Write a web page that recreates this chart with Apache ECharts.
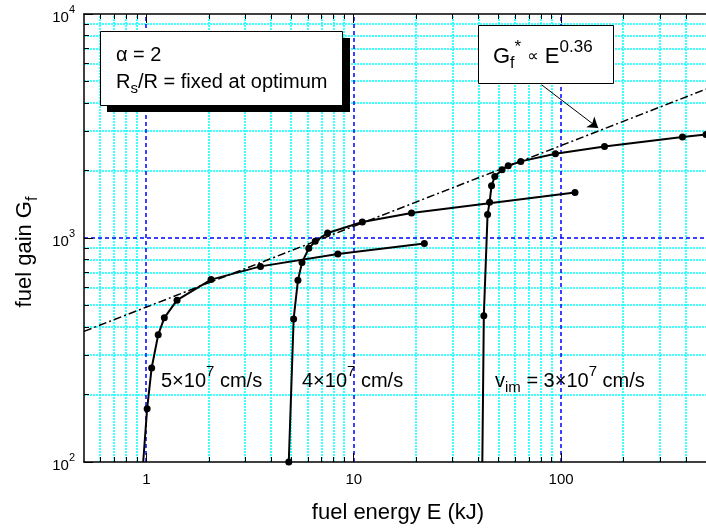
<!DOCTYPE html>
<html>
<head>
<meta charset="utf-8">
<script src="https://cdn.jsdelivr.net/npm/echarts@6/dist/echarts.min.js"></script>
<style>
  html, body { margin: 0; padding: 0; background: #ffffff; }
  #chart { width: 706px; height: 529px; }
</style>
</head>
<body>
<div id="chart"></div>
<script>
// Fuel gain versus fuel energy for three implosion velocities (log-log)
const energy5 = [0.965, 1.008, 1.06, 1.14, 1.22, 1.405, 2.05, 3.55, 8.38, 21.9];
const gain5   = [100, 173, 263, 370, 440, 528, 652, 747, 849, 946];

const energy4 = [4.86, 5.13, 5.38, 5.63, 6.07, 6.52, 7.48, 11.0, 19.0, 116.7];
const gain4   = [100, 435, 647, 778, 899, 966, 1052, 1179, 1294, 1596];

const energy3 = [41.7, 42.4, 44.2, 45.2, 46.2, 47.9, 51.9, 55.6, 63.9, 93.9, 162, 385, 500];
const gain3   = [100, 450, 1273, 1443, 1712, 1881, 2018, 2103, 2198, 2377, 2564, 2826, 2900];

// points where a curve leaves the frame: line only, no dot
const unmarked5 = [0];
const unmarked3 = [0];

// optimum-gain scaling G* ~ E^0.36 (end points of the straight line)
const scalingEnergy = [0.5, 500];
const scalingGain   = [383, 4620];

// pointer from the scaling-law box to the line
const arrowFrom = [80.5, 4831];
const arrowTo   = [151, 3099];

// axis range, ticks and labels
const xRange = [0.5, 500];
const yRange = [100, 10000];
const xMajorTicks = [1, 10, 100];
const xMinorTicks = [0.6, 0.7, 0.8, 0.9, 2, 3, 4, 5, 6, 7, 8, 9,
                     20, 30, 40, 50, 60, 70, 80, 90, 200, 300, 400];
const xTickLabels = ['1', '10', '100'];
const yMajorTicks = [100, 1000, 10000];
const yMinorTicks = [200, 300, 400, 500, 600, 700, 800, 900,
                     2000, 3000, 4000, 5000, 6000, 7000, 8000, 9000];
const yTickExponents = ['2', '3', '4'];
// major grid lines inside the frame
const xMajorGrid = [1, 10, 100];
const yMajorGrid = [1000];

const FONT = '"Liberation Sans", Arial, "DejaVu Sans", sans-serif';

function pairs(xs, ys, hidden) {
  return xs.map((x, i) => {
    const item = { value: [x, ys[i]] };
    if (hidden && hidden.indexOf(i) >= 0) item.symbol = 'none';
    return item;
  });
}

const frameLine = { show: true, lineStyle: { color: '#000000', width: 1.5 } };
const minorGridStyle = { stroke: '#00ffff', lineWidth: 1.5, lineDash: [2, 1] };
const majorGridStyle = { stroke: '#0000ff', lineWidth: 1.5, lineDash: [4, 3] };

function logAxis(range, extra) {
  return Object.assign({
    type: 'log', logBase: 10, z: 3,
    min: range[0], max: range[1],
    axisLine: { show: false },
    axisTick: { show: false },
    axisLabel: { show: false },
    splitLine: { show: false },
    minorTick: { show: false },
    minorSplitLine: { show: false }
  }, extra);
}

function ticks(values, len) {
  return { show: true, inside: true, length: len, customValues: values,
           lineStyle: { color: '#000000', width: 1 } };
}

// grid lines: one custom series per direction, positions from the axes
function gridSeries(values, vertical, style, z) {
  return {
    type: 'custom', xAxisIndex: 0, yAxisIndex: 0, silent: true, z: z,
    animation: false, clip: false,
    data: values.map(v => vertical ? [v, yRange[0]] : [xRange[0], v]),
    renderItem: (params, api) => {
      const v = vertical ? api.value(0) : api.value(1);
      const a = vertical ? api.coord([v, yRange[0]]) : api.coord([xRange[0], v]);
      const b = vertical ? api.coord([v, yRange[1]]) : api.coord([xRange[1], v]);
      const shape = vertical
        ? { x1: Math.round(a[0]), y1: Math.round(a[1]),
            x2: Math.round(a[0]), y2: Math.round(b[1]) }
        : { x1: Math.round(a[0]), y1: Math.round(a[1]),
            x2: Math.round(b[0]), y2: Math.round(a[1]) };
      return { type: 'line', shape: shape, style: style, silent: true };
    }
  };
}

const curveStyle = {
  type: 'line',
  xAxisIndex: 0, yAxisIndex: 0,
  symbol: 'circle', symbolSize: 7,
  lineStyle: { color: '#000000', width: 2 },
  itemStyle: { color: '#000000' },
  z: 5,
  animation: false
};

const richBase = {
  n:   { fontSize: 20, fontFamily: FONT, color: '#000' },
  sup: { fontSize: 15, fontFamily: FONT, color: '#000', padding: [0, 0, 18, 0] },
  sub: { fontSize: 15, fontFamily: FONT, color: '#000', padding: [14, 0, 0, 0] }
};
const richLaw = {
  n:   { fontSize: 22, fontFamily: FONT, color: '#000' },
  sup: { fontSize: 17, fontFamily: FONT, color: '#000', padding: [0, 0, 20, 0] },
  sub: { fontSize: 16, fontFamily: FONT, color: '#000', padding: [14, 0, 0, 0] },
  sym: { fontSize: 16, fontFamily: FONT, color: '#000' }
};
const richTitle = {
  n:   { fontSize: 22, fontFamily: FONT, color: '#000' },
  sub: { fontSize: 16, fontFamily: FONT, color: '#000', padding: [15, 0, 0, 0] }
};

function richText(x, y, text, rich, extra) {
  return Object.assign({
    type: 'text', x: x, y: y, z: 102,
    style: {
      text: text, rich: rich || richBase,
      fontSize: 20, fontFamily: FONT, fill: '#000',
      align: 'left', verticalAlign: 'middle'
    }
  }, extra || {});
}

const chart = echarts.init(document.getElementById('chart'), null, { renderer: 'canvas' });

chart.setOption({
  animation: false,
  backgroundColor: '#ffffff',
  textStyle: { fontFamily: FONT },
  grid: { left: 84, right: -7, top: 14, bottom: 67, containLabel: false },
  xAxis: [
    logAxis(xRange, { position: 'bottom', axisLine: frameLine,
      axisTick: ticks(xMinorTicks, 5) }),
    logAxis(xRange, { position: 'bottom',
      axisTick: ticks(xMajorTicks, 9),
      axisLabel: { show: true, customValues: xMajorTicks, margin: 10,
        fontSize: 15, color: '#000', fontFamily: FONT,
        formatter: v => xTickLabels[xMajorTicks.indexOf(+v)] } }),
    logAxis(xRange, { position: 'top', axisLine: frameLine,
      axisTick: ticks(xMinorTicks, 5) }),
    logAxis(xRange, { position: 'top', axisTick: ticks(xMajorTicks, 9) })
  ],
  yAxis: [
    logAxis(yRange, { position: 'left', axisLine: frameLine,
      axisTick: ticks(yMinorTicks, 5) }),
    logAxis(yRange, { position: 'left',
      axisTick: ticks(yMajorTicks, 9),
      axisLabel: { show: true, customValues: yMajorTicks, margin: 9,
        color: '#000',
        formatter: v => '{b|10}{s|' + yTickExponents[yMajorTicks.indexOf(+v)] + '}',
        rich: {
          b: { fontSize: 15, fontFamily: FONT, color: '#000', padding: [7, 0, 0, 0] },
          s: { fontSize: 11, fontFamily: FONT, color: '#000', padding: [0, 0, 9, 0] }
        } } })
  ],
  series: [
    gridSeries(xMinorTicks, true, minorGridStyle, 1),
    gridSeries(yMinorTicks, false, minorGridStyle, 1),
    gridSeries(xMajorGrid, true, majorGridStyle, 2),
    gridSeries(yMajorGrid, false, majorGridStyle, 2),
    {
      type: 'line', name: 'G* ~ E^0.36',
      xAxisIndex: 0, yAxisIndex: 0,
      data: pairs(scalingEnergy, scalingGain),
      showSymbol: false, symbol: 'none',
      lineStyle: { color: '#000000', width: 1.5, type: [8, 3, 2, 3] },
      z: 4, animation: false,
      markLine: {
        silent: true, animation: false,
        symbol: ['none', 'arrow'], symbolSize: 10,
        lineStyle: { color: '#000000', width: 1, type: 'solid' },
        label: { show: false },
        data: [[{ coord: arrowFrom }, { coord: arrowTo }]]
      }
    },
    Object.assign({ name: '5×10^7 cm/s', data: pairs(energy5, gain5, unmarked5) }, curveStyle),
    Object.assign({ name: '4×10^7 cm/s', data: pairs(energy4, gain4) }, curveStyle),
    Object.assign({ name: '3×10^7 cm/s', data: pairs(energy3, gain3, unmarked3) }, curveStyle)
  ],
  graphic: [
    // parameter box with drop shadow
    { type: 'rect', z: 100, shape: { x: 107, y: 38, width: 243, height: 74 },
      style: { fill: '#000000' } },
    { type: 'rect', z: 101, shape: { x: 100.5, y: 31.5, width: 242, height: 74 },
      style: { fill: '#ffffff', stroke: '#000000', lineWidth: 1 } },
    richText(116, 55, '{n|α = 2}'),
    richText(116, 82, '{n|R}{sub|s}{n|/R = fixed at optimum}'),

    // scaling-law box
    { type: 'rect', z: 101, shape: { x: 478.5, y: 25.5, width: 135, height: 58 },
      style: { fill: '#ffffff', stroke: '#000000', lineWidth: 1 } },
    richText(493, 57, '{n|G}{sub|f}{sup|*}{n| }{sym|∝}{n| E}{sup|0.36}', richLaw),

    // curve labels
    richText(161, 381, '{n|5×10}{sup|7}{n| cm/s}'),
    richText(302, 381, '{n|4×10}{sup|7}{n| cm/s}'),
    richText(495, 381, '{n|v}{sub|im}{n| = 3×10}{sup|7}{n| cm/s}'),

    // axis titles
    richText(398, 513, '{n|fuel energy E (kJ)}', richTitle),
    richText(25, 252, '{n|fuel gain G}{sub|f}', richTitle, { rotation: Math.PI / 2 })
  ]
});

// centre the axis titles on their anchor points
const opt = chart.getOption();
const g = opt.graphic[0].elements;
g[g.length - 2].style.align = 'center';
g[g.length - 1].style.align = 'center';
chart.setOption({ graphic: { elements: g } });
</script>
</body>
</html>
